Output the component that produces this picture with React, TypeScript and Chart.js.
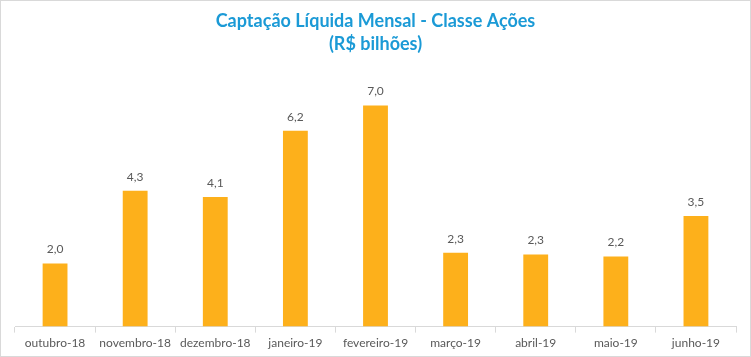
import React, { useEffect, useRef } from "react";
import { Chart, registerables } from "chart.js";

Chart.register(...registerables);

const categories = [
  "outubro-18",
  "novembro-18",
  "dezembro-18",
  "janeiro-19",
  "fevereiro-19",
  "março-19",
  "abril-19",
  "maio-19",
  "junho-19",
];
const values = [2.0, 4.3, 4.1, 6.2, 7.0, 2.34, 2.28, 2.22, 3.5];
const titleLines = ["Captação Líquida Mensal - Classe Ações", "(R$ bilhões)"];

const FONT = "Lato, 'Open Sans', sans-serif";

const labelPlugin = {
  id: "barLabels",
  afterDatasetsDraw(chart: any) {
    const ctx = chart.ctx;
    const meta = chart.getDatasetMeta(0);
    ctx.save();
    ctx.font = `12px ${FONT}`;
    ctx.fillStyle = "#595959";
    ctx.textAlign = "center";
    ctx.textBaseline = "middle";
    meta.data.forEach((bar: any, i: number) => {
      const v = values[i];
      ctx.fillText(v.toFixed(1).replace(".", ","), bar.x, bar.y - 14);
    });
    ctx.restore();
  },
};

const borderPlugin = {
  id: "outerBorder",
  afterDraw(chart: any) {
    const ctx = chart.ctx;
    ctx.save();
    ctx.strokeStyle = "#D9D9D9";
    ctx.lineWidth = 1;
    ctx.strokeRect(0.5, 0.5, chart.width - 1, chart.height - 1);
    ctx.restore();
  },
};

export default function App() {
  const ref = useRef<HTMLCanvasElement>(null);
  useEffect(() => {
    document.body.style.margin = "0";
    const chart = new Chart(ref.current!, {
      type: "bar",
      data: {
        labels: categories,
        datasets: [
          {
            data: values,
            backgroundColor: "#FDB01B",
            barPercentage: 0.31,
            categoryPercentage: 1,
          },
        ],
      },
      options: {
        animation: false,
        responsive: false,
        layout: { padding: { left: 15, right: 15, top: 0, bottom: 4 } },
        plugins: {
          legend: { display: false },
          tooltip: { enabled: false },
          title: {
            display: true,
            text: titleLines,
            color: "#1B9AD6",
            font: { family: FONT, size: 18, weight: "bold", lineHeight: 1.3 },
            padding: { top: 9, bottom: 18 },
          },
        },
        scales: {
          x: {
            grid: {
              display: true,
              offset: true,
              drawOnChartArea: false,
              drawTicks: true,
              tickLength: 6,
              color: "#D9D9D9",
            },
            border: { display: true, color: "#D9D9D9" },
            ticks: {
              color: "#595959",
              font: { family: FONT, size: 12 },
              padding: 3,
              maxRotation: 0,
              autoSkip: false,
            },
          },
          y: {
            display: false,
            min: 0,
            max: 8,
          },
        },
      },
      plugins: [labelPlugin, borderPlugin],
    });
    return () => chart.destroy();
  }, []);
  return <canvas ref={ref} width={751} height={357} style={{ display: "block" }} />;
}
